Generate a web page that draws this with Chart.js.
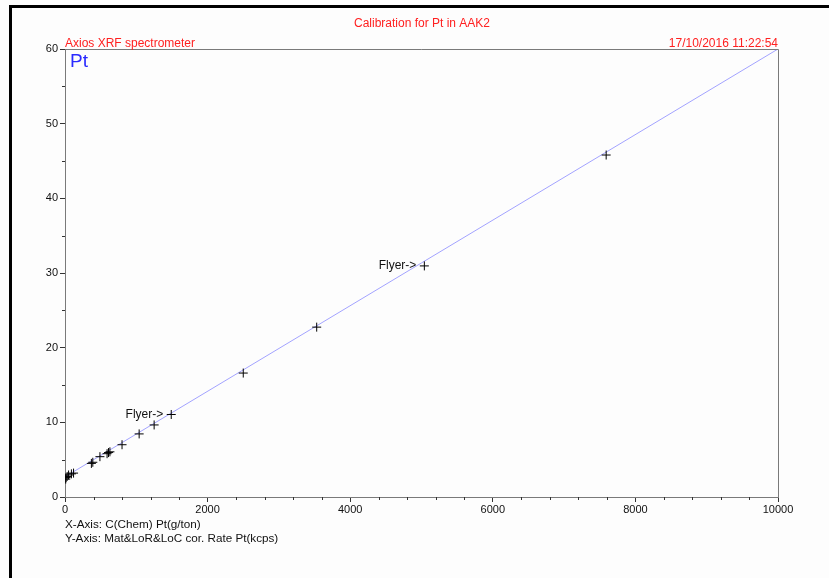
<!DOCTYPE html>
<html>
<head>
<meta charset="utf-8">
<style>
  html, body { margin: 0; padding: 0; background: #fdfdfd; }
  #wrap { position: relative; width: 829px; height: 578px; }
</style>
<script src="https://cdn.jsdelivr.net/npm/chart.js@4/dist/chart.umd.min.js"></script>
</head>
<body>
<div id="wrap"><canvas id="calib" width="829" height="578"></canvas></div>
<script>
// C(Chem) Pt in g/ton against corrected rate in kcps
const concPt = [10, 15, 30, 50, 90, 120, 370, 390, 490, 590, 610, 630, 800, 1040, 1250, 1490, 2500, 3530, 5040, 7590];
const ratePt = [2.4, 2.6, 2.75, 2.95, 3.1, 3.2, 4.5, 4.65, 5.4, 5.8, 5.95, 6.05, 7.0, 8.45, 9.65, 11.05, 16.6, 22.75, 30.95, 45.8];

// calibration line end points
const fitX = [0, 10000];
const fitY = [2.7, 60];

// flagged points
const flyerX = [1490, 5040];
const flyerY = [11.05, 30.95];

const xTicks = [0, 2000, 4000, 6000, 8000, 10000];
const yTicks = [0, 10, 20, 30, 40, 50, 60];

const AXIS_GREY = '#7a7a7a';
const FONT = '"Liberation Sans", Arial, sans-serif';

const frameAndText = {
  id: 'frameAndText',
  beforeDraw(chart) {
    const { ctx } = chart;
    ctx.save();
    ctx.fillStyle = '#fdfdfd';
    ctx.fillRect(0, 0, chart.width, chart.height);
    // outer black frame (top and left only visible)
    ctx.fillStyle = '#000';
    ctx.fillRect(9, 5, chart.width - 9, 3);
    ctx.fillRect(9, 5, 3, chart.height - 5);
    ctx.restore();
  },
  afterDraw(chart) {
    const { ctx, chartArea: a } = chart;
    const xs = chart.scales.x, ys = chart.scales.y;
    ctx.save();

    // top and right sides of the plot box
    ctx.strokeStyle = AXIS_GREY;
    ctx.lineWidth = 1;
    ctx.beginPath();
    ctx.moveTo(a.left, a.top + 0.5);
    ctx.lineTo(a.right + 0.5, a.top + 0.5);
    ctx.lineTo(a.right + 0.5, a.bottom);
    ctx.stroke();

    // minor ticks
    ctx.strokeStyle = '#333';
    ctx.beginPath();
    for (let v = 400; v < 10000; v += 400) {
      if (v % 2000 === 0) continue;
      const px = Math.round(xs.getPixelForValue(v)) + 0.5;
      ctx.moveTo(px, a.bottom);
      ctx.lineTo(px, a.bottom + 3);
    }
    for (let v = 5; v < 60; v += 10) {
      const py = Math.round(ys.getPixelForValue(v)) + 0.5;
      ctx.moveTo(a.left, py);
      ctx.lineTo(a.left - 3, py);
    }
    ctx.stroke();

    // headings
    ctx.fillStyle = '#ff2020';
    ctx.font = '12px ' + FONT;
    ctx.textBaseline = 'alphabetic';
    ctx.textAlign = 'center';
    ctx.fillText('Calibration for Pt in AAK2', 422, 27);
    ctx.textAlign = 'left';
    ctx.fillText('Axios XRF spectrometer', a.left, a.top - 2);
    ctx.textAlign = 'right';
    ctx.fillText('17/10/2016 11:22:54', a.right, a.top - 2);

    ctx.fillStyle = '#2a2aff';
    ctx.font = '19px ' + FONT;
    ctx.textAlign = 'left';
    ctx.fillText('Pt', a.left + 5, a.top + 18);

    // flyer labels
    ctx.fillStyle = '#111';
    ctx.font = '12px ' + FONT;
    ctx.textAlign = 'right';
    ctx.textBaseline = 'middle';
    flyerX.forEach((fx, i) => {
      ctx.fillText('Flyer->', xs.getPixelForValue(fx) - 8, ys.getPixelForValue(flyerY[i]));
    });

    // axis captions
    ctx.font = '11.7px ' + FONT;
    ctx.textAlign = 'left';
    ctx.textBaseline = 'alphabetic';
    ctx.fillText('X-Axis: C(Chem) Pt(g/ton)', a.left, 528);
    ctx.fillText('Y-Axis: Mat&LoR&LoC cor. Rate Pt(kcps)', a.left, 542);
    ctx.restore();
  }
};

const ctx = document.getElementById('calib').getContext('2d');

// eslint-disable-next-line no-undef
new Chart(ctx, {
  type: 'scatter',
  data: {
    datasets: [
      {
        type: 'line',
        label: 'fit',
        data: fitX.map((x, i) => ({ x, y: fitY[i] })),
        borderColor: '#a3a3ff',
        borderWidth: 1,
        pointRadius: 0,
        order: 2,
      },
      {
        label: 'Pt',
        data: concPt.map((x, i) => ({ x, y: ratePt[i] })),
        pointStyle: 'cross',
        pointRadius: 4.5,
        borderColor: '#000',
        borderWidth: 1,
        order: 1,
      }
    ],
  },
  options: {
    responsive: false,
    animation: false,
    layout: { padding: { left: 0, top: 49, right: 51, bottom: 0 } },
    plugins: {
      legend: { display: false },
      tooltip: { enabled: false },
    },
    scales: {
      x: {
        type: 'linear',
        min: 0,
        max: 10000,
        afterBuildTicks: s => { s.ticks = xTicks.map(v => ({ value: v })); },
        afterFit: s => { s.height = 81; },
        border: { color: AXIS_GREY, width: 1 },
        grid: { drawOnChartArea: false, tickLength: 5, color: '#333' },
        ticks: {
          color: '#111', padding: 1, font: { family: FONT, size: 11 }, maxRotation: 0,
          callback: v => String(v),
        },
      },
      y: {
        type: 'linear',
        min: 0,
        max: 60,
        afterBuildTicks: s => { s.ticks = yTicks.map(v => ({ value: v })); },
        afterFit: s => { s.width = 65; },
        border: { color: AXIS_GREY, width: 1 },
        grid: { drawOnChartArea: false, tickLength: 5, color: '#333' },
        ticks: {
          color: '#111', padding: 2, font: { family: FONT, size: 11 },
          callback: v => String(v),
        },
      }
    }
  },
  plugins: [frameAndText]
});
</script>
</body>
</html>
